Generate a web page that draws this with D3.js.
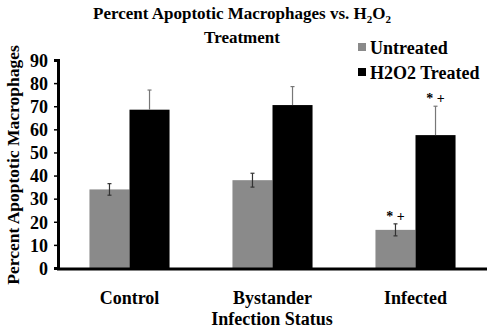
<!DOCTYPE html>
<html>
<head>
<meta charset="utf-8">
<script src="https://cdn.jsdelivr.net/npm/d3@7"></script>
<style>
  body { margin: 0; background: #fff; }
  text { font-family: "Liberation Serif", "Times New Roman", serif; font-weight: bold; fill: #000; }
</style>
</head>
<body>
<svg width="490" height="330"></svg>
<script>
const categories = ["Control", "Bystander", "Infected"];
const seriesNames = ["Untreated", "H2O2 Treated"];
const untreated = [34, 38, 16.5];
const untreatedErr = [2.5, 3, 2.6];
const treated = [68.5, 70.5, 57.5];
const treatedErr = [8.5, 8, 12.5];
const marks = [["", ""], ["", ""], ["* +", "* +"]];
const yTicks = [0, 10, 20, 30, 40, 50, 60, 70, 80, 90];

const svg = d3.select("svg");
const colors = ["#8a8a8a", "#000000"];

const x0 = 58, x1 = 487, yBottom = 268, yTop = 60;

const x = d3.scaleBand().domain(categories).range([x0, x1])
  .paddingInner(0.44).paddingOuter(0.22);
const xs = d3.scaleBand().domain(seriesNames).range([0, x.bandwidth()]);
const y = d3.scaleLinear().domain([0, 90]).range([yBottom, yTop]);

const data = categories.map((c, i) => [
  {cat: c, s: seriesNames[0], v: untreated[i], e: untreatedErr[i], m: marks[i][0]},
  {cat: c, s: seriesNames[1], v: treated[i], e: treatedErr[i], m: marks[i][1]}
]).flat();

// bars
svg.append("g").selectAll("rect").data(data).join("rect")
  .attr("x", d => x(d.cat) + xs(d.s))
  .attr("y", d => y(d.v))
  .attr("width", xs.bandwidth())
  .attr("height", d => y(0) - y(d.v))
  .attr("fill", d => colors[seriesNames.indexOf(d.s)]);

// error bars
const eg = svg.append("g").attr("stroke-width", 1.2);
data.forEach(d => {
  const first = d.s === seriesNames[0];
  const col = first ? "#333" : "#777";
  const cx = x(d.cat) + xs(d.s) + xs.bandwidth() / 2;
  const lo = first ? d.v - d.e : d.v;
  eg.append("line").attr("x1", cx).attr("x2", cx).attr("y1", y(lo)).attr("y2", y(d.v + d.e)).attr("stroke", col);
  eg.append("line").attr("x1", cx - 2).attr("x2", cx + 2).attr("y1", y(d.v + d.e)).attr("y2", y(d.v + d.e)).attr("stroke", col);
  if (first)
    eg.append("line").attr("x1", cx - 2).attr("x2", cx + 2).attr("y1", y(lo)).attr("y2", y(lo)).attr("stroke", col);
  if (d.m) {
    svg.append("text").attr("x", cx).attr("y", y(d.v + d.e) - 3)
      .attr("text-anchor", "middle").style("font-size", "14px")
      .text(d.m);
  }
});

// y axis
const yAxis = svg.append("g").attr("transform", `translate(${x0},0)`)
  .call(d3.axisLeft(y).tickValues(yTicks).tickSize(4).tickPadding(6));
yAxis.select(".domain").attr("stroke-width", 3);
yAxis.selectAll(".tick line").attr("stroke-width", 1.5);
yAxis.selectAll("text").style("font-size", "18px").attr("dy", "0.35em");

// x axis line
svg.append("line").attr("x1", x0 - 1).attr("x2", x1).attr("y1", yBottom + 1).attr("y2", yBottom + 1)
  .attr("stroke", "#000").attr("stroke-width", 3);

// category labels
svg.append("g").selectAll("text").data(categories).join("text")
  .attr("x", d => x(d) + x.bandwidth() / 2)
  .attr("y", 304)
  .attr("text-anchor", "middle")
  .style("font-size", "18px")
  .text(d => d);

svg.append("text").attr("x", 272).attr("y", 325).attr("text-anchor", "middle")
  .style("font-size", "18px").text("Infection Status");

svg.append("text").attr("transform", "translate(19,165) rotate(-90)")
  .attr("text-anchor", "middle").style("font-size", "17.5px").text("Percent Apoptotic Macrophages");

// title
const t = svg.append("text").attr("x", 242).attr("y", 19).attr("text-anchor", "middle").style("font-size", "17px");
t.append("tspan").text("Percent Apoptotic Macrophages vs. H");
t.append("tspan").text("2").attr("dy", 4).style("font-size", "11px");
t.append("tspan").text("O").attr("dy", -4);
t.append("tspan").text("2").attr("dy", 4).style("font-size", "11px");
svg.append("text").attr("x", 242).attr("y", 43).attr("text-anchor", "middle").style("font-size", "17px").text("Treatment");

// legend
const lg = svg.append("g");
seriesNames.forEach((s, i) => {
  lg.append("rect").attr("x", 358).attr("y", 43 + i * 25).attr("width", 8).attr("height", 8).attr("fill", colors[i]);
  lg.append("text").attr("x", 370).attr("y", 54 + i * 25).style("font-size", "18px").text(s);
});
</script>
</body>
</html>
